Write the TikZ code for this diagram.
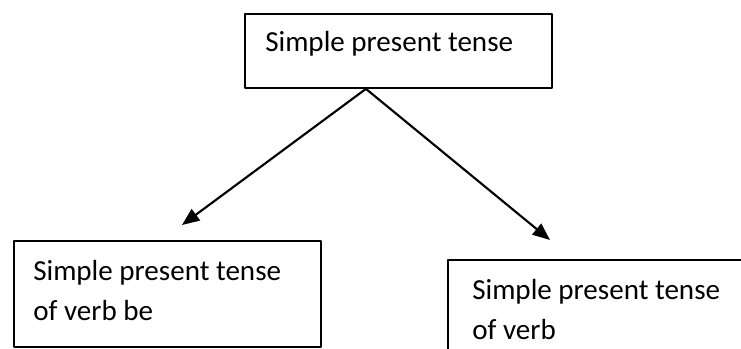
\documentclass[tikz,border=0pt]{standalone}
\usepackage{fontspec}
\setmainfont{Carlito}
\usetikzlibrary{arrows.meta}

\begin{document}
\begin{tikzpicture}[x=0.75pt, y=-0.75pt, line join=round, line cap=round, >={Triangle[length=13pt,width=10.5pt]},
	box/.style={draw, line width=1.4pt, rectangle, inner sep=0pt, anchor=north west},
	words/.style={inner sep=0pt, anchor=base west, align=left, font=\fontsize{21.8}{30}\selectfont}]
	\useasboundingbox (0,0) rectangle (741,349);
	\node[box, minimum width=230.25pt, minimum height=55.5pt] (tense) at (244,13) {};
	\node[box, minimum width=230.25pt, minimum height=79.5pt] (verbbe) at (13,240) {};
	\node[box, minimum width=240pt, minimum height=90pt] (verb) at (447,259) {};
	\node[words] (tenseText) at ([shift={(21,39)}]tense.north west) {Simple present tense};
	\node[words] (verbbeText) at ([shift={(20,80)}]verbbe.north west) {Simple present tense\\of verb be};
	\node[words] (verbText) at ([shift={(25,80)}]verb.north west) {Simple present tense\\of verb};
	\coordinate (fork) at ([shift={(-32.5,0)}]tense.south);
	\coordinate (tipL) at (182,225);
	\coordinate (tipR) at (550,240);
	\draw[->, line width=1.6pt] (fork) -- (tipL);
	\draw[->, line width=1.6pt] (fork) -- (tipR);
\end{tikzpicture}
\end{document}
